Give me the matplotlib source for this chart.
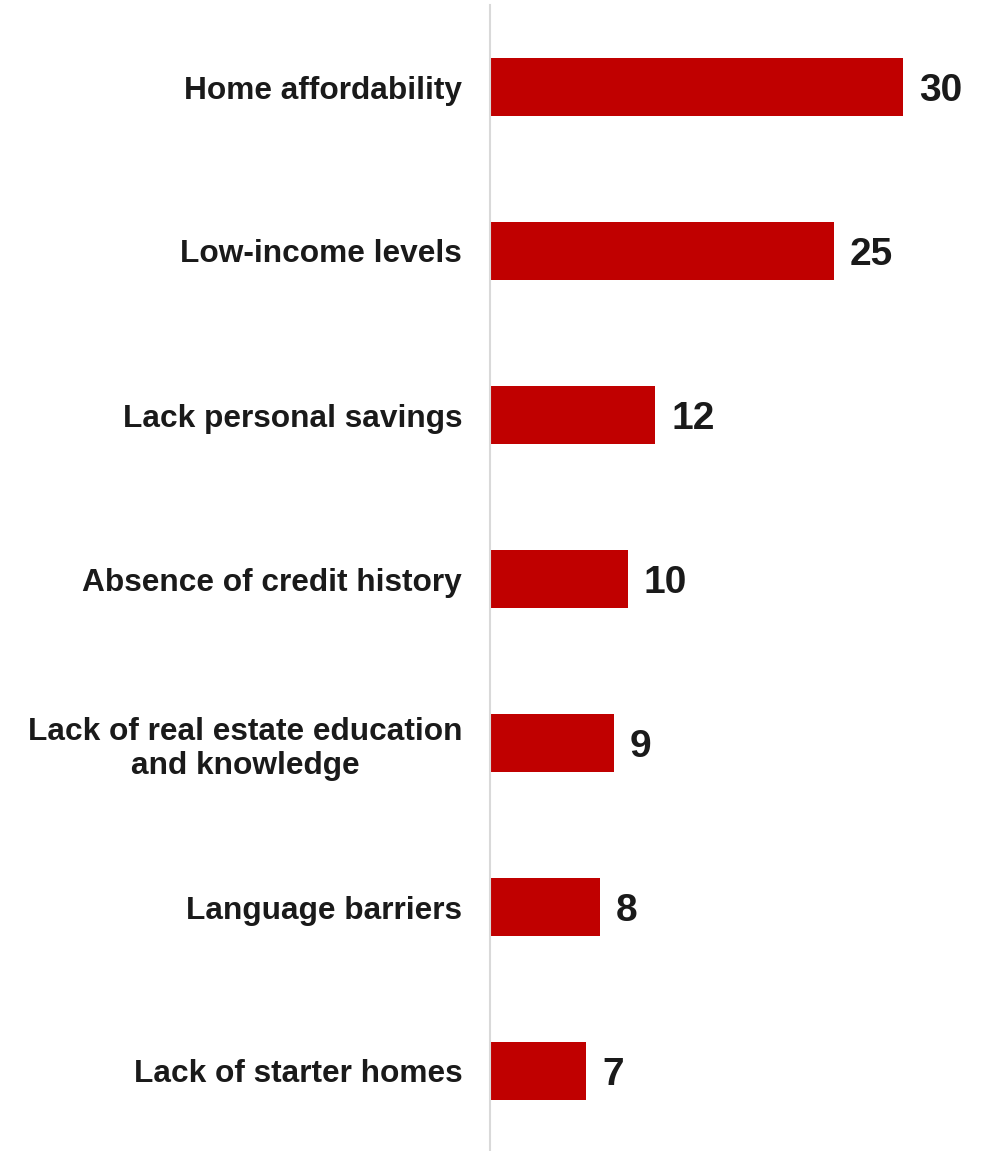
import matplotlib.pyplot as plt

plt.rcParams['font.family'] = ['Liberation Sans', 'DejaVu Sans']

# survey results, top to bottom
categories = ['Home affordability', 'Low-income levels', 'Lack personal savings',
              'Absence of credit history',
              'Lack of real estate education\nand knowledge',
              'Language barriers', 'Lack of starter homes']
values = [30, 25, 12, 10, 9, 8, 7]

fig = plt.figure(figsize=(9.87, 11.51), dpi=100)
ax = fig.add_axes([490 / 987, -2 / 1151, 482 / 987, 1148 / 1151])

pos = list(range(len(categories)))
ax.barh(pos, values, height=0.355, color='#C00000', zorder=2)

for p, v in zip(pos, values):
    ax.text(v + 1.15, p, str(v), va='center_baseline', ha='left', fontsize=28,
            fontweight='bold', color='#1a1a1a')

ax.set_yticks(pos)
ax.set_yticklabels(categories, fontsize=22.8, fontweight='bold', color='#1a1a1a',
                   multialignment='center', linespacing=1.18)
ax.tick_params(axis='y', length=0, pad=20)
ax.set_ylim(len(categories) - 0.5, -0.5)
ax.set_xlim(0, 35)
ax.set_xticks([])

for s in ['top', 'right', 'bottom']:
    ax.spines[s].set_visible(False)
ax.spines['left'].set_color('#D9D9D9')
ax.spines['left'].set_linewidth(1.5)

fig.savefig('out.png', dpi=100)
